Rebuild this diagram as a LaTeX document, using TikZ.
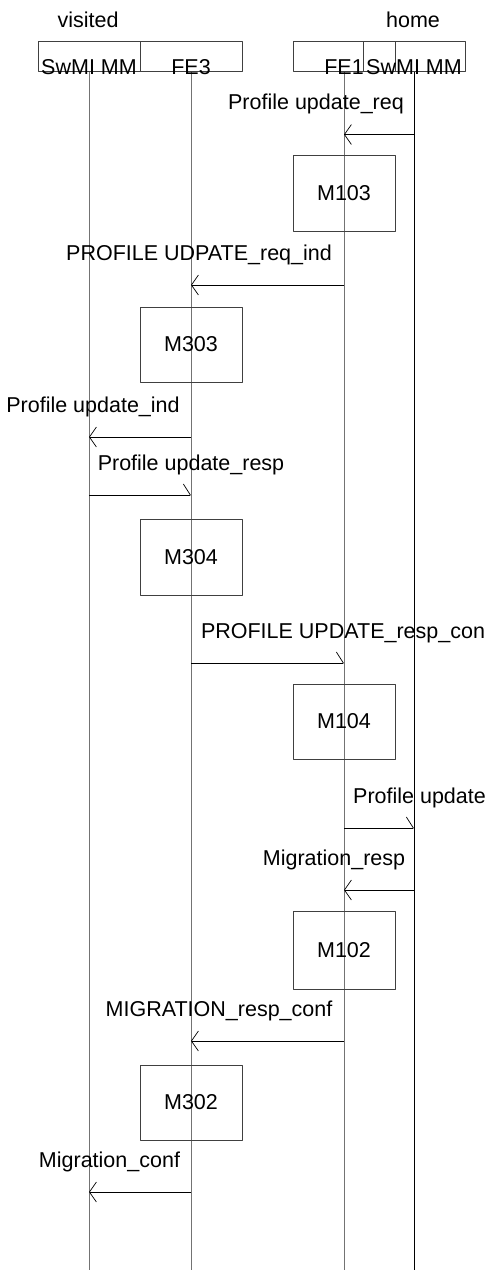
\documentclass[tikz,border=0pt]{standalone}
\usepackage{fontspec}
\setmainfont{Liberation Sans}
\usetikzlibrary{arrows.meta}
\begin{document}
\begin{tikzpicture}[x=1pt, y=-1pt, line join=round, font=\fontsize{21.5}{24}\selectfont]
		\tikzset{
			headbox/.style={draw=black!75, line width=0.8pt, minimum width=102pt, minimum height=30pt, inner sep=0pt},
			procbox/.style={draw=black!75, line width=0.8pt, minimum width=102pt, inner sep=0pt},
			lifeline/.style={draw=black!55, line width=0.8pt},
			msg/.style={draw=black, line width=0.8pt, -{Straight Barb[length=7pt, width=20pt, line width=0.7pt]}},
			msgr/.style={msg, -{Straight Barb[harpoon, length=7pt, width=22pt, line width=0.7pt]}},
			msgtext/.style={anchor=base, inner sep=0pt}
		}
		\useasboundingbox (0,0) rectangle (493,1270);
		% lifelines
		\path (89,72) coordinate (SV) (191,72) coordinate (FEt) (344,72) coordinate (FEo) (414,72) coordinate (SH);
		\foreach \p in {SV,FEt,FEo}{
			\draw [lifeline] (\p)--(\p |- 0,1270);
		}
		\draw [line width=0.9pt] (SH)--(SH |- 0,1270);
		% domains
		\node [msgtext] (visited) at (88,27) {visited};
		\node [msgtext] (home) at (413,27) {home};
		% header boxes
		\foreach \p/\n/\t in {SV/hSV/SwMI MM, FEt/hFEt/FE3, FEo/hFEo/FE1, SH/hSH/SwMI MM}{
			\node [headbox, anchor=south] (\n) at (\p) {};
			\node [msgtext] (\n-t) at ([yshift=-2.5pt]\p) {\t};
		}
		% processing boxes
		\foreach \p/\a/\b/\t in {FEo/155/231/M103, FEt/307/382/M303, FEt/519/595/M304, FEo/684/759/M104, FEo/911/989/M102, FEt/1065/1140/M302}{
			\node [procbox, minimum height={\b-\a}] (\t) at (\p |- 0,{(\a+\b)/2}) {\t};
		}
		% messages
		\foreach \f/\g/\y/\x/\t/\s [count=\i] in {
			SH/FEo/134.5/316/Profile update\_req/msg,
			FEo/FEt/285/199/PROFILE UDPATE\_req\_ind/msg,
			FEt/SV/437/93/Profile update\_ind/msg,
			SV/FEt/495/191/Profile update\_resp/msgr,
			FEt/FEo/663/343/PROFILE UPDATE\_resp\_con/msgr,
			FEo/SH/828/419.5/Profile update/msgr,
			SH/FEo/890/334/Migration\_resp/msg,
			FEo/FEt/1041/219/MIGRATION\_resp\_conf/msg,
			FEt/SV/1192/109.5/Migration\_conf/msg}{
			\draw [\s] (\f |- 0,\y)--(\g |- 0,\y);
			\node [msgtext] (msg\i) at (\x,\y-25) {\t};
		}
	\end{tikzpicture}
\end{document}
